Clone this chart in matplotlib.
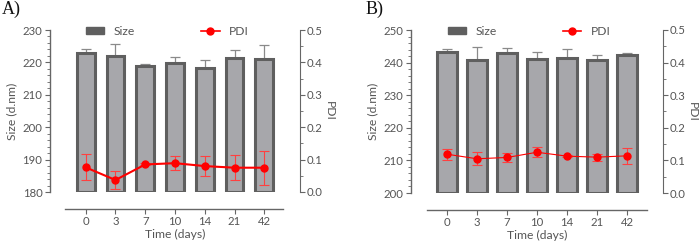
import matplotlib.pyplot as plt
import numpy as np
from matplotlib.patches import Patch
from matplotlib.lines import Line2D

days = ['0', '3', '7', '10', '14', '21', '42']

# Panel A
size_a = [223.0, 222.0, 218.9, 219.8, 218.3, 221.3, 221.1]
size_a_err = [1.2, 3.7, 0.5, 2.0, 2.4, 2.5, 4.2]
pdi_a = [0.076, 0.037, 0.085, 0.089, 0.080, 0.075, 0.075]
pdi_a_err = [0.040, 0.027, 0.003, 0.021, 0.030, 0.039, 0.052]

# Panel B
size_b = [243.1, 240.9, 242.8, 241.0, 241.4, 240.9, 242.3]
size_b_err = [1.0, 4.0, 1.6, 2.2, 2.7, 1.4, 0.5]
pdi_b = [0.119, 0.105, 0.109, 0.125, 0.113, 0.110, 0.114]
pdi_b_err = [0.017, 0.020, 0.015, 0.016, 0.004, 0.011, 0.025]

W, H = 699, 243
txt = '#555555'
bar_fc = '#a7a7ab'
bar_ec = '#5f5f5f'
fs = 8.2

fig = plt.figure(figsize=(W / 100, H / 100), dpi=100)
plt.rcParams['font.family'] = ['Lato', 'DejaVu Sans']


def panel(rect, size, size_err, pdi, pdi_err, ylim, letter, letter_xy, bw, xline, lw_pdi):
    ax = fig.add_axes(rect)
    x = np.arange(len(days))
    ax.bar(x, np.array(size) - ylim[0], bottom=ylim[0], width=bw,
           color=bar_fc, edgecolor=bar_ec, linewidth=2.2, zorder=2)
    ax.errorbar(x, size, yerr=[np.zeros(len(x)), size_err], fmt='none',
                ecolor='#8a8a8a', elinewidth=0.9, capsize=3.5, capthick=0.9, zorder=1)
    ax.set_ylim(*ylim)
    ax.set_xlim(-1.2, 7.2)
    ax.set_yticks(np.arange(ylim[0], ylim[1] + 1, 10))
    ax.set_yticks(np.arange(ylim[0], ylim[1] + 1, 2), minor=True)
    ax.set_xticks(x)
    ax.set_xticklabels(days)
    for s in ['top', 'right']:
        ax.spines[s].set_visible(False)
    ax.spines['bottom'].set_position(('outward', 12))
    ax.spines['bottom'].set_bounds(*xline)
    for s in ['left', 'bottom']:
        ax.spines[s].set_color('#666666')
        ax.spines[s].set_linewidth(1.0)
    ax.tick_params(colors='#666666', labelcolor=txt, labelsize=fs, length=3.5, width=0.8, pad=2)
    ax.tick_params(which='minor', length=2, width=0.6, colors='#666666')
    ax.set_ylabel('Size (d.nm)', color=txt, fontsize=fs + 0.5, labelpad=4)
    ax.set_xlabel('Time (days)', color=txt, fontsize=fs + 0.5, labelpad=1)

    ax2 = ax.twinx()
    ax2.errorbar(x, pdi, yerr=pdi_err, fmt='-o', color='#ff0000', ecolor='#ff4040',
                 elinewidth=0.8, capsize=3.5, capthick=0.8, lw=lw_pdi, markersize=5, zorder=3)
    ax2.set_ylim(0, 0.5)
    ax2.set_yticks(np.arange(0, 0.51, 0.1))
    ax2.set_yticks(np.arange(0, 0.51, 0.05), minor=True)
    ax2.set_yticklabels(['%.1f' % v for v in np.arange(0, 0.51, 0.1)])
    for s in ['top', 'left', 'bottom']:
        ax2.spines[s].set_visible(False)
    ax2.spines['right'].set_color('#666666')
    ax2.tick_params(colors='#666666', labelcolor=txt, labelsize=fs, length=3.5, width=0.8, pad=1.5)
    ax2.tick_params(which='minor', length=2, width=0.6, colors='#666666')
    ax2.set_ylabel('PDI', color=txt, fontsize=fs + 0.5, rotation=270, labelpad=9)

    handles = [Patch(facecolor='#5f5f5f', edgecolor='#5f5f5f'),
               Line2D([], [], color='#ff0000', marker='o', markersize=5, lw=1.2)]
    ax2.legend(handles, ['Size', 'PDI'], ncol=2, frameon=False, loc='lower center',
               bbox_to_anchor=(0.47, 0.92), fontsize=fs + 0.5, labelcolor=txt,
               columnspacing=5.5, handlelength=1.5, handleheight=0.45, borderpad=0)

    fig.text(letter_xy[0] / W, 1 - letter_xy[1] / H, letter, family='Liberation Serif',
             fontsize=13, va='top', ha='left', color='#111111')
    return ax


panel([50 / W, 1 - 192 / H, 250 / W, 162 / H], size_a, size_a_err, pdi_a, pdi_a_err,
      (180, 230), 'A)', (2, 1), 0.6, (-0.71, 6.64), 1.5)
panel([411 / W, 1 - 193 / H, 252 / W, 163 / H], size_b, size_b_err, pdi_b, pdi_b_err,
      (200, 250), 'B)', (366, 1), 0.65, (-0.67, 6.67), 0.8)

fig.savefig('out.png', dpi=100)
